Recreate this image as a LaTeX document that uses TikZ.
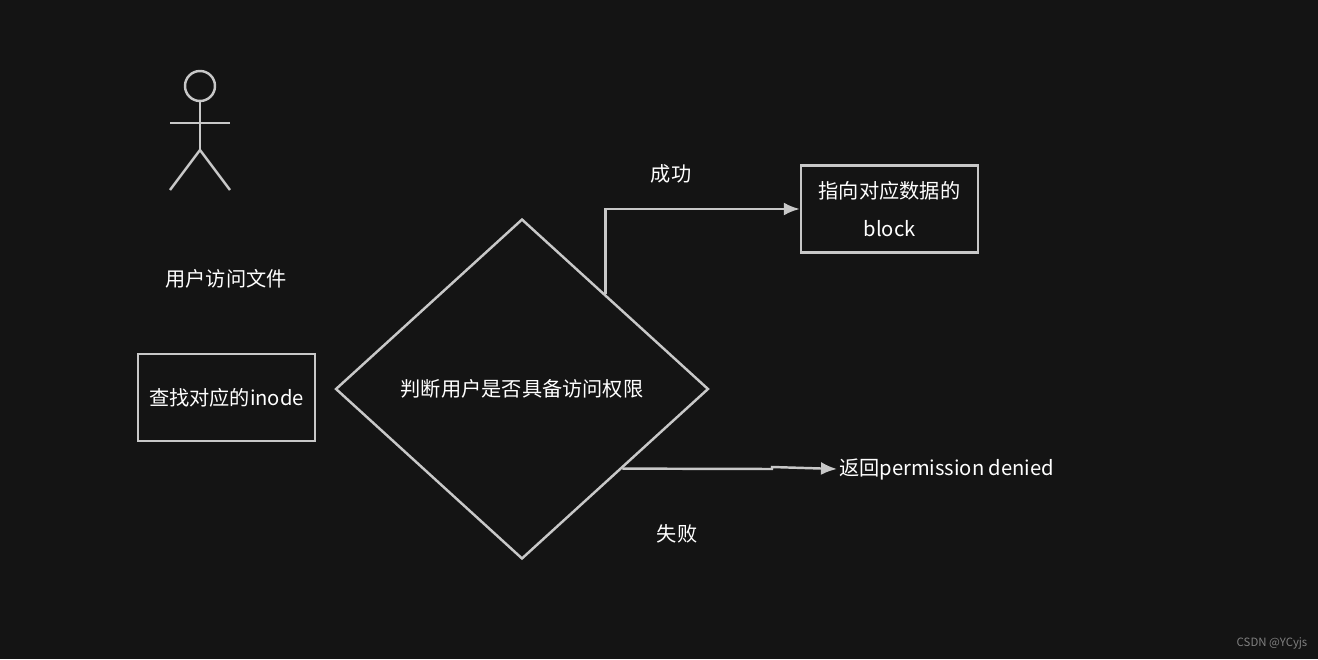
\documentclass[tikz,border=0pt]{standalone}
\usepackage{fontspec}
\setmainfont{Noto Sans CJK SC}
\usetikzlibrary{shapes.geometric,calc,arrows.meta}
\definecolor{bg}{HTML}{141414}
\definecolor{ln}{HTML}{C8C8C8}
\tikzset{
  line/.style = {draw=ln, line width=1.4pt},
  box/.style = {line, rectangle, minimum width=3.54cm, minimum height=1.74cm, inner sep=2pt, align=center, text=white},
  lbl/.style = {text=white, inner sep=1pt},
  arr/.style = {line, -{Latex[length=3.2mm,width=2.6mm]}}
}
\begin{document}
\begin{tikzpicture}[x=0.02cm, y=-0.02cm, font=\fontsize{11.5}{22}\selectfont]
    \fill[bg] (0,0) rectangle (1318,659);
    \useasboundingbox (0,0) rectangle (1318,659);

    % stick figure
    \draw[line] (200,86) circle (15);
    \draw[line] (200,101) -- (200,150);
    \draw[line] (170,123) -- (230,123);
    \draw[line] (170,190) -- (200,150) -- (230,190);
    \node[lbl] (user) at (226,279) {用户访问文件};

    \node[box] (inode) at (226.5,397.5) {查找对应的inode};
    \node[line, diamond, minimum width=7.46cm, minimum height=6.8cm, inner sep=0pt, text=white] (check) at (522,389) {判断用户是否具备访问权限};
    \node[box] (block) at (889.5,209) {指向对应数据的\\block};
    \node[lbl, anchor=west] (deny) at (837,469) {返回permission denied};

    \coordinate (okstart) at ($(check.north)!0.444!(check.east)$);
    \coordinate (nostart) at ($(check.south)!0.535!(check.east)$);
    \draw[arr] (okstart) |- (block.west);
    \draw[arr] (nostart) -- (772,469) -- (772,467) -- (deny.west);

    \node[lbl] (ok) at (671,174) {成功};
    \node[lbl] (fail) at (677,534) {失败};
    \node[text=gray, font=\fontsize{6.5}{8}\selectfont] (mark) at (1272,643) {CSDN @YCyjs};
\end{tikzpicture}
\end{document}
